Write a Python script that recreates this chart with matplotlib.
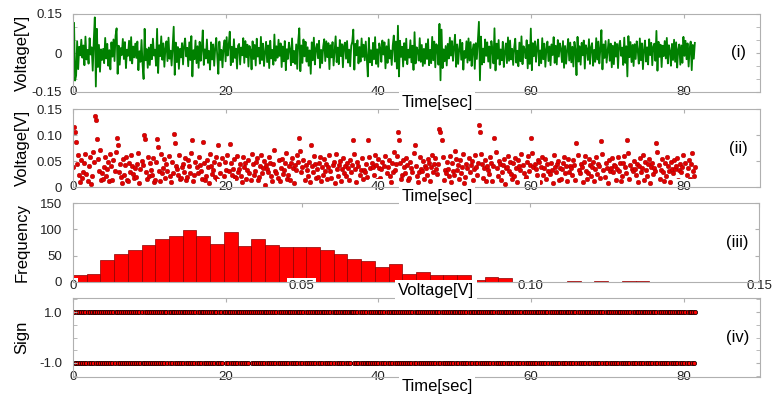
import matplotlib
matplotlib.use('Agg')
import matplotlib.pyplot as plt
from matplotlib.ticker import MultipleLocator
import numpy as np

plt.rcParams['font.family'] = ['Liberation Sans', 'DejaVu Sans']

# sampled voltage in mV, read (roughly) off panels (i) and (ii)
voltage_mv = [
    38, 116, -106, -87, 45, -62, 24, -9, 51, -18, 29, -47, 63, -25, 12, -41, 57, -6, 22, -68,
    48, 137, -129, 93, -54, 31, -72, 14, -27, 16, -39, 58, -21, 35, -49, 11, -63, 41, -14, 52,
    -31, 67, 95, -80, 28, -45, 19, -8, 54, -23, 42, -58, 13, -11, 47, -29, 61, -40, 25, -17,
    36, -19, 44, -66, 7, -34, 50, -43, -100, 93, -28, 15, -57, 21, -46, 32, -24, 55, -10, 13,
    -49, 93, -77, 30, -12, 64, -26, 37, -53, 18, 45, -31, 59, -22, 9, -48, 27, 101, -84, 40,
    -35, 23, -61, 16, -17, 38, -44, 29, 56, -13, 20, -51, 41, -27, 65, -90, 11, -24, 48, -39,
    26, -57, 43, -30, 15, 87, -46, 14, -21, 52, -38, 8, -64, 41, -25, 33, -49, 19, 58, -16,
    -80, 44, -27, 12, -55, 22, 49, -32, 61, -10, 30, 82, -47, 24, -35, 53, -19, 17, -60, 28,
    35, -44, 21, -9, 57, -38, 46, -16, 32, -52, 27, 13, -63, 45, -23, 31, -48, 55, -14, 20,
    -41, 62, -27, 36, -50, 4, 43, -35, 29, -58, 47, -21, 12, -45, 71, -30, 26, -18, 51, -11,
    37, -54, 25, -32, 46, -66, 15, -23, 40, 14, -47, 56, -36, 8, -42, 33, -61, 48, 95, -70,
    29, -38, 52, -13, 43, -33, 22, -49, 10, -80, 41, -28, 59, -44, 17, 35, -20, 47, -57, 12,
    -39, 24, 53, -31, 45, -16, 38, -62, 30, -17, 42, -48, 7, 64, -35, 21, -43, 50, -12, 34,
    -55, 27, 40, -22, 46, -37, 13, -51, 28, 43, 90, -64, 35, -9, 49, -40, 23, -33, 56, -15,
    32, -28, 44, -19, -90, 58, -36, 11, -47, 39, -24, 61, -42, 14, -53, 37, 18, -34, 48, -6,
    41, -59, 26, -38, 52, -21, 10, -46, 29, 67, -33, 44, -60, 105, -90, 47, -15, 24, -52, 38,
    -27, 55, -43, 13, -18, 49, -36, 28, -65, 80, -40, 22, 9, -29, 57, -34, 31, -50, 16, -41,
    36, -23, 53, -47, 12, -39, 62, -28, 44, -55, 34, 25, -45, 112, -105, 90, -58, 14, -32, 27,
    -48, 35, -21, 59, -10, 46, -30, 24, 70, -53, 33, -42, 15, 51, -26, 39, -64, 8, -19, 45,
    -37, 56, -29, 42, -50, 13, 34, -61, 38, -23, 47, 120, -105, 63, -44, 17, -36, 52, -11, 41,
    -33, 25, -58, 46, 12, -40, 95, -67, 36, -22, 50, -45, 14, -28, 43, -54, 6, 37, -39, 60,
    -30, 48, -25, 16, -46, 21, 55, -37, 9, -51, 40, -32, 64, -43, 26, 13, -20, 49, -59, 31,
    -42, 94, -66, 38, -12, 45, -34, 23, 52, -48, 10, -39, 57, -24, 36, -53, 15, 44, -31, 25,
    -47, 33, -8, 61, -38, 28, -44, 50, -14, 37, 16, -35, 46, -57, 27, -41, 11, 54, -29, 40,
    -36, 24, -52, 43, 13, -85, 62, -33, 26, -45, 39, -9, 48, -60, 30, 15, -27, 53, -42, 22,
    38, -49, 12, -34, 57, -25, 44, -40, 17, 88, -63, 33, -19, 46, -37, 7, 51, -30, 36, -55,
    28, -43, 41, -14, 35, -58, 30, 47, -11, 21, -46, 59, -38, 26, -90, 65, -16, 42, -35, 31,
    -50, 34, -23, 45, 10, -41, 56, -28, 37, -62, 13, 48, -33, 22, -44, 53, -8, 39, -47, 25,
    36, -30, 85, -68, 43, -15, 32, -54, 28, -12, 46, -21, 58, -40, 30, 9, -49, 35, -27, 51,
    -34, 41, -56, 14, 33, -45, 29, -38, 62, -11, 47, -24, 37, -52, 16, 44, -66, 31, -22, 39,
]
sample_dt = 0.136  # sec

# histogram of |V| (panel iii), 3 mV bins starting at 0
hist_bin_w = 0.003
hist_counts = [13, 16, 42, 53, 61, 71, 82, 87, 99, 88, 73, 94, 68, 82, 71, 66,
               67, 67, 61, 54, 43, 39, 29, 35, 16, 19, 14, 14, 14, 4, 9, 8,
               0, 2, 0, 0, 1, 0, 1, 0, 1, 1]

time_ticks = [0, 20, 40, 60, 80]
time_labels = ['0', '20', '40', '60', '80']
v1_ticks = [-0.15, 0, 0.15]
v1_labels = ['-0.15', '0', '0.15']
v2_ticks = [0, 0.05, 0.10, 0.15]
v2_labels = ['0', '0.05', '0.10', '0.15']
freq_ticks = [0, 50, 100, 150]
sign_ticks = [-1.0, 1.0]
sign_labels = ['-1.0', '1.0']

W, H = 773, 397
GRAY = '#b0b0b0'
fig = plt.figure(figsize=(W / 100, H / 100), dpi=100)


def add_panel(top, bottom, left=73, right=760):
    return fig.add_axes([left / W, 1 - bottom / H, (right - left) / W, (bottom - top) / H])


def style(ax, roman, ylabel, xpad=0):
    for s in ax.spines.values():
        s.set_color(GRAY)
        s.set_linewidth(0.8)
    ax.tick_params(axis='x', bottom=False, top=True, direction='in', length=3,
                   pad=xpad, color=GRAY, labelsize=9.5, labelcolor='#222222')
    ax.tick_params(axis='y', which='both', left=True, right=True, direction='in',
                   length=3, pad=7.9, color=GRAY, labelsize=9.5, labelcolor='#222222')
    for lbl in ax.get_xticklabels():
        lbl.set_va('center')
        lbl.set_bbox(dict(facecolor='white', edgecolor='none', pad=1.2))
    ax.set_ylabel(ylabel, fontsize=12)
    ax.yaxis.label.set_va('center')
    ax.yaxis.set_label_coords((22 - 73) / 687, 0.5)
    ax.text(0.968, 0.5, roman, transform=ax.transAxes, ha='center', va='center', fontsize=12)


v = np.array(voltage_mv) / 1000.0
t = np.arange(len(v)) * sample_dt

# (i) waveform
ax1 = add_panel(14, 92)
ax1.plot(t, v, color='#008000', lw=1.3)
ax1.set_xlim(0, 90)
ax1.set_ylim(-0.15, 0.15)
ax1.set_xticks(time_ticks, time_labels)
ax1.set_yticks(v1_ticks, v1_labels)
ax1.yaxis.set_minor_locator(MultipleLocator(0.05))
style(ax1, '(i)', 'Voltage[V]')

# (ii) absolute value
ax2 = add_panel(109, 187)
ax2.scatter(t, np.abs(v), s=11, c='#e00000', edgecolors='#a00000', linewidths=0.3)
ax2.set_xlim(0, 90)
ax2.set_ylim(0, 0.15)
ax2.set_xticks(time_ticks, time_labels)
ax2.set_yticks(v2_ticks, v2_labels)
style(ax2, '(ii)', 'Voltage[V]')

# (iii) histogram
ax3 = add_panel(203, 282, right=759)
counts = np.array(hist_counts)
lefts = np.arange(len(counts)) * hist_bin_w
nz = counts > 0
ax3.bar(lefts[nz], counts[nz], width=hist_bin_w, align='edge',
        color='#ff0000', edgecolor='#8b0000', linewidth=0.5)
ax3.set_xlim(0, 0.15)
ax3.set_ylim(0, 150)
ax3.set_xticks(v2_ticks, v2_labels)
ax3.set_yticks(freq_ticks)
style(ax3, '(iii)', 'Frequency', xpad=3)

# (iv) sign
ax4 = add_panel(298, 377)
ax4.scatter(t, np.sign(v), s=9, c='#ff0000', edgecolors='#200000', linewidths=0.6)
ax4.set_xlim(0, 90)
ax4.set_ylim(-1.55, 1.55)
ax4.set_xticks(time_ticks, time_labels)
ax4.set_yticks(sign_ticks, sign_labels)
ax4.yaxis.set_minor_locator(MultipleLocator(0.5))
style(ax4, '(iv)', 'Sign')

box = dict(facecolor='white', edgecolor='none', pad=2)
for y in (102, 196, 386):
    fig.text(437 / W, 1 - y / H, 'Time[sec]', ha='center', va='center', fontsize=12, bbox=box)
fig.text(436 / W, 1 - 290 / H, 'Voltage[V]', ha='center', va='center', fontsize=12, bbox=box)

fig.savefig('out.png', dpi=100)
